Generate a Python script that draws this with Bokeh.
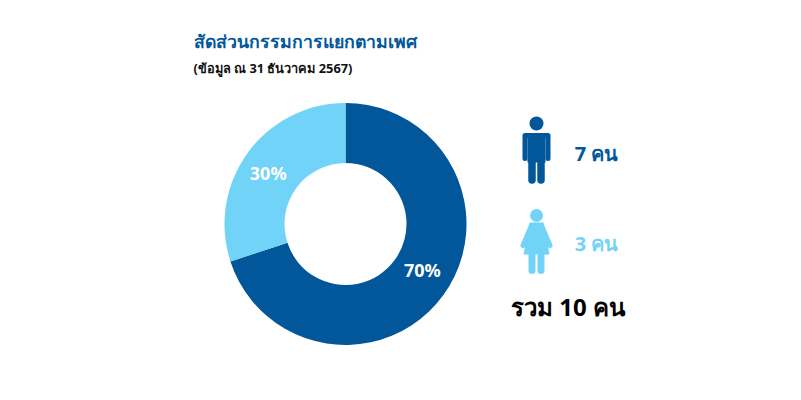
from math import pi
import numpy as np
from bokeh.plotting import figure
from bokeh.models import ColumnDataSource, Range1d
from bokeh.core.properties import value
from bokeh.embed import file_html
from bokeh.resources import INLINE

categories = ["ชาย", "หญิง"]
shares = [70, 30]
counts = [7, 3]
colors = ["#02579a", "#72d3f8"]
title = "สัดส่วนกรรมการแยกตามเพศ"
subtitle = "(ข้อมูล ณ 31 ธันวาคม 2567)"
total = "รวม 10 คน"
FONT = "Noto Sans"

W, H = 785, 384
p = figure(width=W, height=H, x_range=Range1d(0, W), y_range=Range1d(400 - H, 400),
           output_backend="svg", toolbar_location=None, min_border=0,
           outline_line_color=None, background_fill_color="white")
p.axis.visible = False
p.grid.visible = False

def Y(y):
    return 400 - y

# donut
cx, cy, r0, r1 = 345, Y(223.5), 61, 121
frac = np.array(shares) / sum(shares)
ends = np.cumsum(frac)
starts = ends - frac
a0 = pi / 2 - 2 * pi * ends
a1 = pi / 2 - 2 * pi * starts
src = ColumnDataSource(dict(cat=categories, a0=a0, a1=a1, color=colors, share=shares,
                            label=[f"{s}%" for s in shares]))
p.annular_wedge(x=cx, y=cy, inner_radius=r0, outer_radius=r1, start_angle="a0", end_angle="a1",
                fill_color="color", line_color=None, source=src)
mid = (a0 + a1) / 2
lx = cx + (r0 + r1) / 2 * np.cos(mid) * np.array([1.045, 1.05])
ly = cy + (r0 + r1) / 2 * np.sin(mid) * np.array([0.853, 0.955])
p.text(x=list(lx), y=list(ly), text=src.data["label"], text_color="white",
       text_font=value(FONT), text_font_size="18px", text_font_style="bold",
       text_align="center", text_baseline="middle")

def txt(x, y, s, color, size, style="normal", align="left"):
    p.text(x=[x], y=[Y(y)], text=[s], text_color=color, text_font=value(FONT),
           text_font_size=f"{size}px", text_font_style=style, text_align=align,
           text_baseline="middle")

txt(193, 40.5, title, colors[0], 17.7, "bold")
txt(193, 67.5, subtitle, "#111111", 12.8, "bold")
txt(596, 153, f"{counts[0]} คน", colors[0], 20, "bold", "center")
txt(596, 243, f"{counts[1]} คน", colors[1], 20, "bold", "center")
txt(567.5, 306, total, "#000000", 24, "bold", "center")

def limb(xs, ys, w, c):
    p.line(x=xs, y=[Y(v) for v in ys], line_width=w, line_color=c, line_cap="round", line_join="round")

# man icon
c = colors[0]
p.circle(x=[536], y=[Y(123)], radius=7, fill_color=c, line_color=None)
p.patch(x=[527, 545, 545, 527], y=[Y(v) for v in [133, 133, 162, 162]], fill_color=c, line_color=None)
limb([524.5, 524.5, 547.5, 547.5], [158, 135, 135, 158], 5, c)
limb([531.5, 531.5], [160, 179.5], 7.5, c)
limb([540.5, 540.5], [160, 179.5], 7.5, c)
# woman icon
c = colors[1]
p.circle(x=[536], y=[Y(215)], radius=6.5, fill_color=c, line_color=None)
p.patch(x=[529, 543, 549, 523], y=[Y(v) for v in [222, 222, 254, 254]], fill_color=c, line_color=None)
limb([531, 522.5], [225, 245], 5, c)
limb([541, 549.5], [225, 245], 5, c)
limb([531.5, 531.5], [252, 270], 7, c)
limb([540.5, 540.5], [252, 270], 7, c)

open("out.html", "w").write(file_html(p, INLINE))
